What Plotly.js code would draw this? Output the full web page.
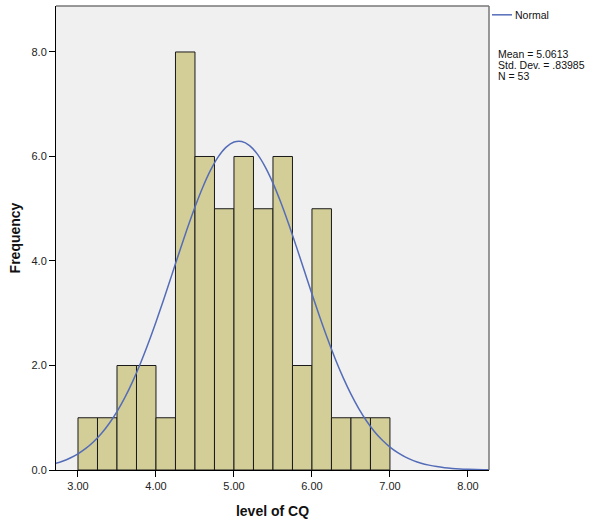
<!DOCTYPE html>
<html>
<head>
<meta charset="utf-8">
<script src="https://cdn.plot.ly/plotly-3.0.1.min.js"></script>
<style>
  html, body { margin: 0; padding: 0; background: #ffffff; }
  #chart { width: 594px; height: 522px; }
</style>
</head>
<body>
<div id="chart"></div>
<script>
// Histogram bins (left edges, width 0.25) and frequencies
const binLeft = [3.00, 3.25, 3.50, 3.75, 4.00, 4.25, 4.50, 4.75, 5.00, 5.25, 5.50, 5.75, 6.00, 6.25, 6.50, 6.75];
const counts  = [1, 1, 2, 2, 1, 8, 6, 5, 6, 5, 6, 2, 5, 1, 1, 1];
const binWidth = 0.25;

// Normal curve
const curveX = [2.7, 2.8, 2.9, 3.0, 3.1, 3.2, 3.3, 3.4, 3.5, 3.6, 3.7, 3.8, 3.9, 4.0, 4.1, 4.2, 4.3, 4.4, 4.5, 4.6, 4.7, 4.8, 4.9, 5.0, 5.1, 5.2, 5.3, 5.4, 5.5, 5.6, 5.7, 5.8, 5.9, 6.0, 6.1, 6.2, 6.3, 6.4, 6.5, 6.6, 6.7, 6.8, 6.9, 7.0, 7.1, 7.2, 7.3, 7.4, 7.5, 7.6, 7.7, 7.8, 7.9, 8.0, 8.1, 8.2, 8.3];
const curveY = [0.121, 0.168, 0.230, 0.310, 0.412, 0.540, 0.698, 0.890, 1.118, 1.385, 1.692, 2.038, 2.420, 2.832, 3.269, 3.720, 4.173, 4.616, 5.034, 5.412, 5.738, 5.997, 6.179, 6.277, 6.287, 6.209, 6.045, 5.802, 5.491, 5.124, 4.713, 4.275, 3.823, 3.370, 2.929, 2.511, 2.121, 1.767, 1.451, 1.175, 0.938, 0.738, 0.573, 0.438, 0.331, 0.246, 0.180, 0.130, 0.093, 0.065, 0.045, 0.031, 0.021, 0.014, 0.009, 0.006, 0.004];

const xTicks = [3, 4, 5, 6, 7, 8];
const xTickLabels = ["3.00", "4.00", "5.00", "6.00", "7.00", "8.00"];
const yTicks = [0, 2, 4, 6, 8];
const yTickLabels = ["0.0", "2.0", "4.0", "6.0", "8.0"];

const legendLabel = "Normal";
const statLines = ["Mean = 5.0613", "Std. Dev. = .83985", "N = 53"];

const font = "Liberation Sans, Arial, sans-serif";
const curveColor = "rgb(84,108,184)";

const traces = [
  {
    type: "bar",
    x: binLeft,
    y: counts,
    width: binWidth,
    offset: 0,
    marker: { color: "rgb(211,206,152)", line: { color: "#1a1a1a", width: 1 } },
    showlegend: false,
    hoverinfo: "x+y"
  },
  {
    type: "scatter",
    mode: "lines",
    x: curveX,
    y: curveY,
    line: { color: curveColor, width: 1.5, shape: "spline" },
    name: legendLabel,
    showlegend: false
  }
];

const statY = [0.8966, 0.8728, 0.8491];
const annotations = [
  {
    xref: "paper", yref: "paper", x: 1.0577, y: 0.981,
    xanchor: "left", yanchor: "middle", showarrow: false, borderpad: 0,
    text: legendLabel, font: { family: font, size: 10.5, color: "#111" }
  }
].concat(statLines.map((t, i) => ({
  xref: "paper", yref: "paper", x: 1.0185, y: statY[i],
  xanchor: "left", yanchor: "middle", showarrow: false, borderpad: 0,
  text: t, font: { family: font, size: 10.5, color: "#111" }
})));

const layout = {
  width: 594,
  height: 522,
  margin: { l: 56, r: 105, t: 6, b: 52 },
  paper_bgcolor: "#ffffff",
  plot_bgcolor: "#f0f0f0",
  showlegend: false,
  bargap: 0,
  font: { family: font, size: 11, color: "#222" },
  xaxis: {
    range: [2.718, 8.27],
    tickvals: xTicks,
    ticktext: xTickLabels,
    ticks: "outside",
    ticklen: 6,
    tickcolor: "#000",
    tickwidth: 1,
    showline: true,
    linecolor: "#000",
    linewidth: 1,
    showgrid: false,
    zeroline: false,
    tickfont: { family: font, size: 11, color: "#222" },
    title: { text: "<b>level of CQ</b>", font: { family: font, size: 14, color: "#111" }, standoff: 14 }
  },
  yaxis: {
    range: [0, 8.88],
    tickvals: yTicks,
    ticktext: yTickLabels,
    ticks: "outside",
    ticklen: 6,
    tickcolor: "#000",
    tickwidth: 1,
    showline: true,
    linecolor: "#000",
    linewidth: 1,
    showgrid: false,
    zeroline: false,
    tickfont: { family: font, size: 11, color: "#222" },
    title: { text: "<b>Frequency</b>", font: { family: font, size: 14, color: "#111" }, standoff: 7 }
  },
  shapes: [
    {
      type: "line", xref: "paper", yref: "paper", x0: 0, x1: 1, y0: 1, y1: 1,
      line: { color: "#777", width: 1.5 }, layer: "above"
    },
    {
      type: "line", xref: "paper", yref: "paper", x0: 1, x1: 1, y0: 0, y1: 1,
      line: { color: "#777", width: 1.5 }, layer: "above"
    },
    {
      type: "line", xref: "paper", yref: "paper", x0: 1.0069, x1: 1.0531, y0: 0.981, y1: 0.981,
      line: { color: curveColor, width: 1.5 }
    }
  ],
  annotations: annotations
};

Plotly.newPlot("chart", traces, layout, { displayModeBar: false, staticPlot: true });
</script>
</body>
</html>
